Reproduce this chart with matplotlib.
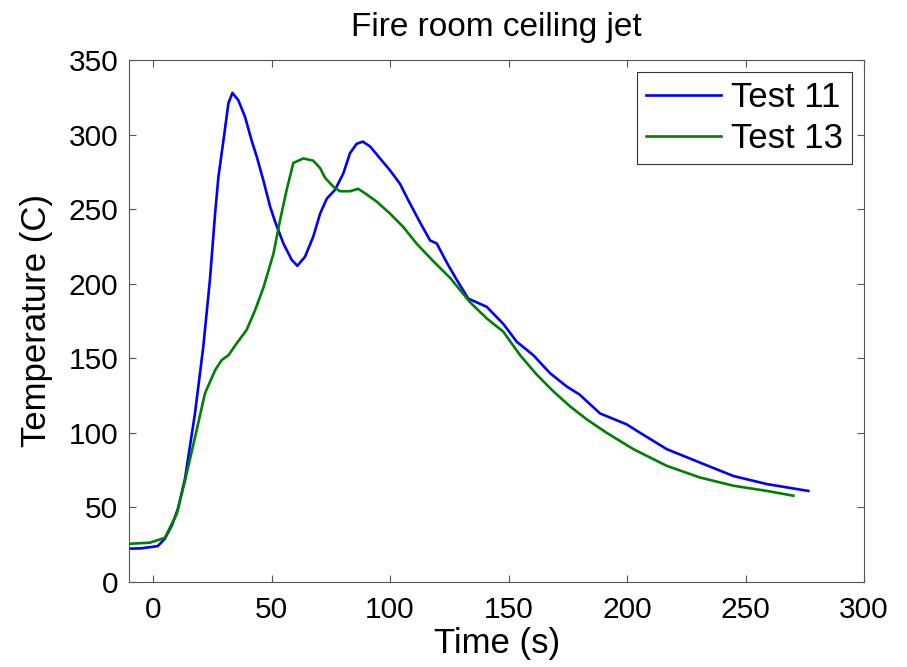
import matplotlib
matplotlib.use("Agg")
import matplotlib.pyplot as plt

plt.rcParams['font.family'] = ['Liberation Sans', 'DejaVu Sans']

# Test 11 ceiling-jet temperature
t11 = [-9.7, -5, 2, 5, 8, 10.5, 13.5, 17.7, 21.2, 24, 26.2, 27.6, 29.7, 31.8, 33.5,
       36, 38.8, 41.6, 43.8, 46.5, 49.4, 51.5, 55, 58.5, 60.9, 64.1, 67.6, 70.5,
       73.3, 76.8, 80.3, 83.1, 85.9, 88.5, 91.6, 95.8, 100, 104.2, 107.7, 112.7,
       116.9, 119.7, 124, 128, 133, 140.8, 147.8, 153.5, 160.5, 167.5, 174.6, 180,
       188.6, 199.9, 205.5, 216.8, 230.8, 244.9, 259, 276.5]
T11 = [22.3, 22.5, 24, 29, 38, 49, 69.4, 113, 157.7, 202.5, 247.4, 271.8, 296, 321, 328,
       323, 312, 296, 285, 269.6, 251.7, 241.6, 227, 216, 212, 218, 231.5, 247,
       257, 263, 274, 287.5, 293.8, 295.3, 292, 284, 276, 267, 256, 241,
       229, 227, 214, 203, 190, 184.5, 173, 161, 152, 140, 131, 125.6,
       113, 105.6, 100, 89, 80, 71, 65.6, 61]

# Test 13 ceiling-jet temperature
t13 = [-9.7, -1.3, 5, 10, 13.5, 18.4, 21.9, 26.2, 29, 31.8, 35.3, 39.5, 43, 45.1,
       46.5, 50.8, 53.6, 56.4, 59.2, 63.4, 67.6, 70.5, 72.6, 76.1, 78.9, 83.1, 86.6,
       90.2, 94.4, 100, 105.6, 111.3, 118.3, 125.3, 133.8, 140.8, 147.8, 154.9,
       161.9, 168.9, 175.9, 183, 191.4, 202.7, 216.8, 230.8, 244.9, 259, 270.2]
T13 = [25.6, 26.3, 29.6, 45.6, 68, 101.7, 126.4, 142, 148.8, 152, 160, 169, 182, 191,
       197, 220, 242.6, 263, 281, 284, 282.5, 277.5, 271, 265, 262, 262, 263.6,
       259.8, 255, 247, 238, 226.7, 215, 204, 187.5, 176.7, 167.8, 152,
       139, 127.8, 117.8, 109, 100, 89, 77.8, 70, 64.5, 61, 57.8]

x_ticks = [0, 50, 100, 150, 200, 250, 300]
y_ticks = [0, 50, 100, 150, 200, 250, 300, 350]

fig = plt.figure(figsize=(9.07, 6.67), dpi=100)
ax = fig.add_axes([0.1426, 0.1276, 0.8100, 0.7824])

ax.plot(t11, T11, color=(0, 0, 1), lw=1.9, label='Test 11')
ax.plot(t13, T13, color=(0, 0.5, 0), lw=1.9, label='Test 13')

ax.set_xlim(-10, 300)
ax.set_ylim(0, 350)
ax.set_xticks(x_ticks)
ax.set_yticks(y_ticks)

tick_fs = 21.5
label_fs = 25
ax.tick_params(direction='in', top=True, right=True, length=5, width=0.8,
               color='#555555', labelsize=tick_fs)
ax.tick_params(axis='x', pad=10)
ax.tick_params(axis='y', pad=8)
for s in ax.spines.values():
    s.set_color('#555555')
    s.set_linewidth(0.8)

ax.set_xlabel('Time (s)', fontsize=label_fs, labelpad=2)
ax.set_ylabel('Temperature (C)', fontsize=label_fs, labelpad=11)
ax.set_title('Fire room ceiling jet', fontsize=24, pad=17)

leg = ax.legend(loc='upper right', fontsize=label_fs, frameon=True, fancybox=False,
                edgecolor='black', handlelength=2.15, handletextpad=0.3,
                borderpad=0.25, labelspacing=0.24, borderaxespad=0.35)
leg.get_frame().set_linewidth(0.8)

fig.savefig('out.png', dpi=100)
